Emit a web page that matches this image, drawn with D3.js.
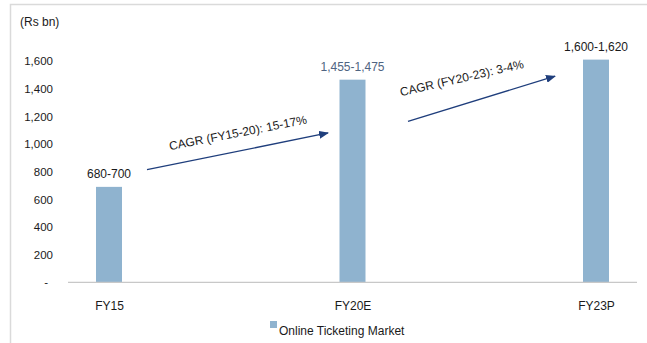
<!DOCTYPE html>
<html>
<head>
<meta charset="utf-8">
<script src="https://cdn.jsdelivr.net/npm/d3@7"></script>
<style>
  html, body { margin: 0; padding: 0; background: #fff; }
  svg { display: block; font-family: "Liberation Sans", Arial, sans-serif; }
</style>
</head>
<body>
<svg id="chart" width="647" height="343"></svg>
<script>
// Online ticketing market size, Rs bn (low and high end of each estimate)
const categories = ["FY15", "FY20E", "FY23P"];
const rangeLow  = [680, 1455, 1600];
const rangeHigh = [700, 1475, 1620];
const marketSize = [690, 1465, 1610];   // mid-point of each range, bar height
const yTicks = [0, 200, 400, 600, 800, 1000, 1200, 1400, 1600];
const seriesName = "Online Ticketing Market";
const unitLabel = "(Rs bn)";
// growth annotations: from/to category with the value level of each arrow end
const cagrNotes = [
  { text: "CAGR (FY15-20): 15-17%", from: "FY15",  to: "FY20E", v0: 814,  v1: 1080 },
  { text: "CAGR (FY20-23): 3-4%",  from: "FY20E", to: "FY23P", v0: 1164, v1: 1490 }
];

const barColor = "#8fb3cf";
const arrowColor = "#1f3e7c";
const textColor = "#1a1a1a";

const svg = d3.select("#chart");

// frame
svg.append("path")
  .attr("d", "M10.5,343 V4.5 H647")
  .attr("fill", "none")
  .attr("stroke", "#dadada")
  .attr("stroke-width", 1.5);

const x = d3.scalePoint().domain(categories).range([109, 596]);
const y = d3.scaleLinear().domain([0, 1600]).range([282.3, 61]);
const barW = 26;

// y axis labels (no axis line)
const yAxis = d3.axisLeft(y)
  .tickValues(yTicks)
  .tickSize(0)
  .tickPadding(0)
  .tickFormat(d => d === 0 ? "-" : d3.format(",")(d));
const gy = svg.append("g").attr("transform", "translate(53,0)").call(yAxis);
gy.select(".domain").remove();
gy.selectAll("text")
  .attr("font-size", 11.5)
  .attr("fill", textColor)
  .attr("font-family", "Liberation Sans, Arial, sans-serif")
  .attr("x", d => d === 0 ? -5 : 0);

svg.append("text")
  .attr("x", 20).attr("y", 26)
  .attr("font-size", 12).attr("fill", textColor)
  .text(unitLabel);

// bars
svg.selectAll("rect.bar")
  .data(categories)
  .join("rect")
  .attr("class", "bar")
  .attr("x", d => x(d) - barW / 2)
  .attr("width", barW)
  .attr("y", (d, i) => y(marketSize[i]))
  .attr("height", (d, i) => y(0) - y(marketSize[i]))
  .attr("fill", barColor);

// x axis
const xAxis = d3.axisBottom(x).tickSize(0).tickPadding(0);
const gx = svg.append("g").attr("transform", `translate(0,${y(0)})`).call(xAxis);
gx.select(".domain").remove();
gx.append("line")
  .attr("x1", 68).attr("x2", 637)
  .attr("stroke", "#c8c8c8").attr("stroke-width", 1.2);
gx.selectAll(".tick text")
  .attr("font-size", 12)
  .attr("fill", textColor)
  .attr("font-family", "Liberation Sans, Arial, sans-serif")
  .attr("dy", 0)
  .attr("y", 28);

// value range labels
const fmt = d3.format(",");
svg.selectAll("text.val")
  .data(categories)
  .join("text")
  .attr("class", "val")
  .attr("x", d => x(d))
  .attr("y", (d, i) => y(marketSize[i]) - 9)
  .attr("text-anchor", "middle")
  .attr("font-size", 12)
  .attr("fill", (d, i) => i === 1 ? "#4f6482" : textColor)
  .text((d, i) => `${fmt(rangeLow[i])}-${fmt(rangeHigh[i])}`);

// growth arrows with CAGR notes
const defs = svg.append("defs");
defs.append("marker")
  .attr("id", "arrowHead")
  .attr("viewBox", "0 0 10 8")
  .attr("refX", 9).attr("refY", 4)
  .attr("markerWidth", 10).attr("markerHeight", 8)
  .attr("markerUnits", "userSpaceOnUse")
  .attr("orient", "auto")
  .append("path")
  .attr("d", "M0,0 L10,4 L0,8 Z")
  .attr("fill", arrowColor);

const arrowInset = [[38, -24.5], [55.5, -41]];
const noteOffsets = [
  { dx: 23, dy: -19.5, angle: -11 },
  { dx: -7, dy: -25, angle: -13 }
];

cagrNotes.forEach((n, i) => {
  const x0 = x(n.from) + arrowInset[i][0];
  const x1 = x(n.to) + arrowInset[i][1];
  const y0 = y(n.v0), y1 = y(n.v1);
  svg.append("line")
    .attr("x1", x0).attr("y1", y0)
    .attr("x2", x1).attr("y2", y1)
    .attr("stroke", arrowColor)
    .attr("stroke-width", 1.3)
    .attr("marker-end", "url(#arrowHead)");
  const tx = x0 + noteOffsets[i].dx, ty = y0 + noteOffsets[i].dy;
  svg.append("text")
    .attr("transform", `translate(${tx},${ty}) rotate(${noteOffsets[i].angle})`)
    .attr("font-size", 12)
    .attr("fill", textColor)
    .text(n.text);
});

// legend
const lg = svg.append("g").attr("transform", "translate(270,321)");
lg.append("rect").attr("width", 7).attr("height", 7).attr("fill", barColor);
lg.append("text")
  .attr("x", 9).attr("y", 14)
  .attr("font-size", 12).attr("fill", textColor)
  .text(seriesName);
</script>
</body>
</html>
